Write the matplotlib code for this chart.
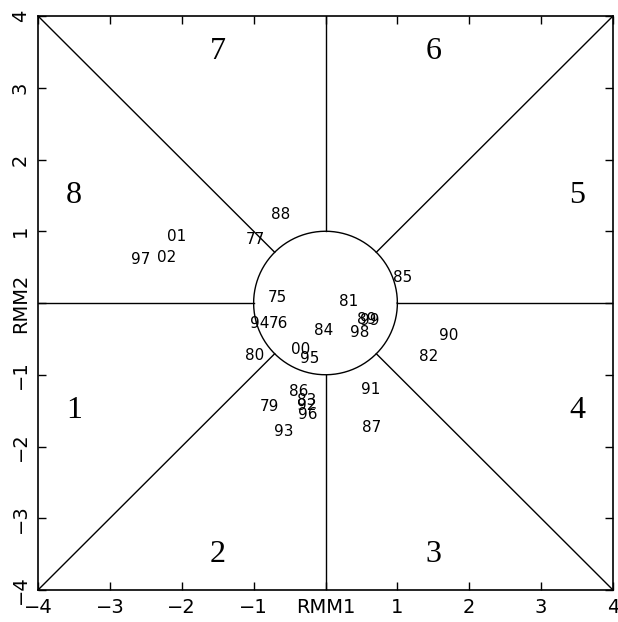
import numpy as np
import matplotlib
matplotlib.use("Agg")
import matplotlib.pyplot as plt

years = ["88", "01", "77", "97", "02", "85", "75", "81", "89", "99", "94", "76",
         "84", "98", "90", "80", "00", "95", "82", "91", "86", "83", "92", "96",
         "79", "87", "93"]
rmm1 = [-0.62, -2.07, -0.97, -2.57, -2.21, 1.08, -0.67, 0.32, 0.57, 0.62, -0.92, -0.66,
        -0.02, 0.47, 1.71, -0.99, -0.34, -0.22, 1.43, 0.63, -0.38, -0.26, -0.26, -0.25,
        -0.78, 0.64, -0.58]
rmm2 = [1.24, 0.93, 0.89, 0.60, 0.64, 0.36, 0.08, 0.02, -0.23, -0.25, -0.29, -0.29,
        -0.39, -0.41, -0.45, -0.73, -0.65, -0.78, -0.74, -1.20, -1.24, -1.36, -1.43, -1.56,
        -1.44, -1.73, -1.79]

phases = ["1", "2", "3", "4", "5", "6", "7", "8"]
phase_x = [-3.5, -1.5, 1.5, 3.5, 3.5, 1.5, -1.5, -3.5]
phase_y = [-1.5, -3.5, -3.5, -1.5, 1.5, 3.5, 3.5, 1.5]

ticks = [-4, -3, -2, -1, 0, 1, 2, 3, 4]
xtick_labels = ["\u22124", "\u22123", "\u22122", "\u22121", "RMM1", "1", "2", "3", "4"]
ytick_labels = ["\u22124", "\u22123", "\u22122", "\u22121", "RMM2", "1", "2", "3", "4"]

fig = plt.figure(figsize=(6.18, 6.22), dpi=100)
ax = fig.add_axes([38/618, 32/622, 575/618, 574/622])
ax.set_xlim(-4, 4)
ax.set_ylim(-4, 4)

lw = 1.0
# circle
t = np.linspace(0, 2*np.pi, 400)
ax.plot(np.cos(t), np.sin(t), color="black", lw=lw)
# phase lines
r = np.sqrt(0.5)
for sx, sy in [(1, 1), (1, -1), (-1, 1), (-1, -1)]:
    ax.plot([sx*r, sx*4], [sy*r, sy*4], color="black", lw=lw)
ax.plot([1, 4], [0, 0], color="black", lw=lw)
ax.plot([-1, -4], [0, 0], color="black", lw=lw)
ax.plot([0, 0], [1, 4], color="black", lw=lw)
ax.plot([0, 0], [-1, -4], color="black", lw=lw)

for p, px, py in zip(phases, phase_x, phase_y):
    ax.text(px, py, p, ha="center", va="center", fontsize=23,
            family=["Liberation Serif", "DejaVu Serif"])

for yr, x, y in zip(years, rmm1, rmm2):
    ax.text(x, y, yr, ha="center", va="center", fontsize=11,
            family=["DejaVu Sans"], fontweight="medium")

ax.set_xticks(ticks)
ax.set_yticks(ticks)
ax.set_xticklabels(xtick_labels, family=["DejaVu Sans"], fontsize=14)
ax.set_yticklabels(ytick_labels, family=["DejaVu Sans"], fontsize=14,
                   rotation=90, va="center")
ax.tick_params(direction="in", length=6, width=1, top=True, right=True, pad=6)
ax.tick_params(axis="y", pad=6)
for s in ax.spines.values():
    s.set_linewidth(1.2)

fig.savefig("out.png", dpi=100)
